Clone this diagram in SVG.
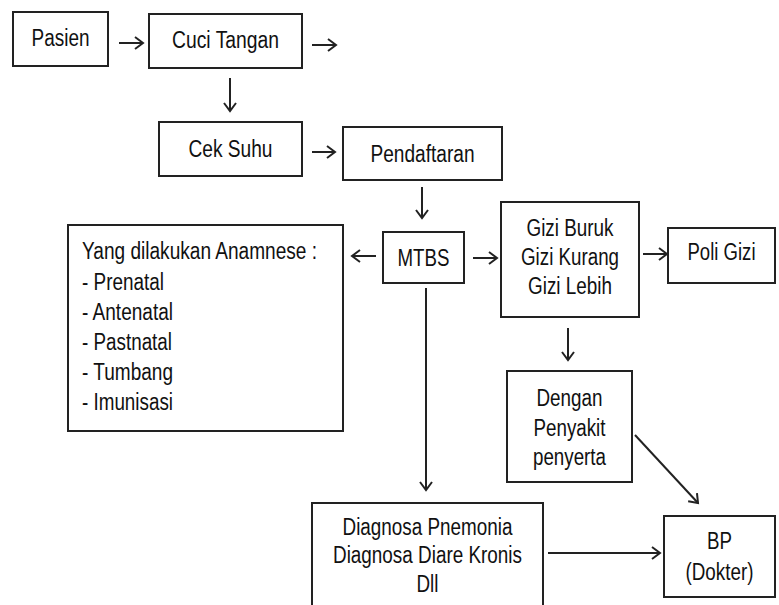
<svg xmlns="http://www.w3.org/2000/svg" width="779" height="605" viewBox="0 0 779 605">
<style>
.box{fill:#fff;stroke:#222;stroke-width:2}
.t{font-family:"Liberation Sans Narrow","Liberation Sans",Arial,sans-serif;font-size:23px;fill:#111}
.c{text-anchor:middle}
.ln{stroke:#222;stroke-width:2;fill:none;marker-end:url(#arr)}
</style>
<defs>
<marker id="arr" markerUnits="userSpaceOnUse" markerWidth="12" markerHeight="14" refX="9" refY="7" orient="auto">
<path d="M1,1 L9,7 L1,13" fill="none" stroke="#222" stroke-width="2"/>
</marker>
</defs>
<rect width="779" height="605" fill="#fff"/>
<g id="pasien"><rect class="box" x="13" y="12" width="95" height="54"/><text class="t c" x="60.5" y="46" textLength="58" lengthAdjust="spacingAndGlyphs">Pasien</text></g>
<g id="cuci"><rect class="box" x="149" y="14" width="153" height="54"/><text class="t c" x="225.5" y="48" textLength="107" lengthAdjust="spacingAndGlyphs">Cuci Tangan</text></g>
<g id="ceksuhu"><rect class="box" x="159" y="122" width="143" height="54"/><text class="t c" x="230.5" y="157" textLength="84" lengthAdjust="spacingAndGlyphs">Cek Suhu</text></g>
<g id="pendaftaran"><rect class="box" x="343" y="127" width="159" height="53"/><text class="t c" x="422.5" y="162" textLength="104" lengthAdjust="spacingAndGlyphs">Pendaftaran</text></g>
<g id="mtbs"><rect class="box" x="383" y="232" width="81" height="51"/><text class="t c" x="423.5" y="266" textLength="52" lengthAdjust="spacingAndGlyphs">MTBS</text></g>
<g id="gizi"><rect class="box" x="501" y="202" width="138" height="115"/>
<text class="t c" x="570" y="236" textLength="87" lengthAdjust="spacingAndGlyphs">Gizi Buruk</text>
<text class="t c" x="570" y="265" textLength="98" lengthAdjust="spacingAndGlyphs">Gizi Kurang</text>
<text class="t c" x="570" y="294" textLength="84" lengthAdjust="spacingAndGlyphs">Gizi Lebih</text></g>
<g id="poligizi"><rect class="box" x="668" y="228" width="107" height="55"/><text class="t c" x="721.5" y="260" textLength="68" lengthAdjust="spacingAndGlyphs">Poli Gizi</text></g>
<g id="anamnese"><rect class="box" x="68" y="225" width="275" height="206"/>
<text class="t" x="82" y="259" textLength="235" lengthAdjust="spacingAndGlyphs">Yang dilakukan Anamnese :</text>
<text class="t" x="82" y="290" textLength="82" lengthAdjust="spacingAndGlyphs">- Prenatal</text>
<text class="t" x="82" y="320" textLength="91" lengthAdjust="spacingAndGlyphs">- Antenatal</text>
<text class="t" x="82" y="350" textLength="90" lengthAdjust="spacingAndGlyphs">- Pastnatal</text>
<text class="t" x="82" y="380" textLength="91" lengthAdjust="spacingAndGlyphs">- Tumbang</text>
<text class="t" x="82" y="410" textLength="91" lengthAdjust="spacingAndGlyphs">- Imunisasi</text></g>
<g id="dengan"><rect class="box" x="507" y="371" width="125" height="111"/>
<text class="t c" x="569.5" y="406" textLength="66" lengthAdjust="spacingAndGlyphs">Dengan</text>
<text class="t c" x="569.5" y="436" textLength="72" lengthAdjust="spacingAndGlyphs">Penyakit</text>
<text class="t c" x="569.5" y="465" textLength="73" lengthAdjust="spacingAndGlyphs">penyerta</text></g>
<g id="diagnosa"><rect class="box" x="312" y="503" width="231" height="110"/>
<text class="t c" x="427.5" y="535" textLength="170" lengthAdjust="spacingAndGlyphs">Diagnosa Pnemonia</text>
<text class="t c" x="427.5" y="563" textLength="189" lengthAdjust="spacingAndGlyphs">Diagnosa Diare Kronis</text>
<text class="t c" x="427.5" y="592" textLength="22" lengthAdjust="spacingAndGlyphs">Dll</text></g>
<g id="bp"><rect class="box" x="664" y="516" width="111" height="81"/>
<text class="t c" x="719.5" y="549" textLength="25" lengthAdjust="spacingAndGlyphs">BP</text>
<text class="t c" x="719.5" y="580" textLength="68" lengthAdjust="spacingAndGlyphs">(Dokter)</text></g>
<g id="connectors">
<line class="ln" x1="119" y1="43" x2="143" y2="43"/>
<line class="ln" x1="312" y1="45" x2="336" y2="45"/>
<line class="ln" x1="230" y1="78" x2="230" y2="111"/>
<line class="ln" x1="312" y1="152" x2="335" y2="152"/>
<line class="ln" x1="422" y1="187" x2="422" y2="218"/>
<line class="ln" x1="376" y1="256" x2="352" y2="256"/>
<line class="ln" x1="473" y1="258" x2="497" y2="258"/>
<line class="ln" x1="643" y1="254" x2="667" y2="254"/>
<line class="ln" x1="568" y1="328" x2="568" y2="360"/>
<line class="ln" x1="426" y1="288" x2="426" y2="490"/>
<line class="ln" x1="635" y1="435" x2="698" y2="503"/>
<line class="ln" x1="548" y1="553" x2="660" y2="553"/>
</g>
</svg>
